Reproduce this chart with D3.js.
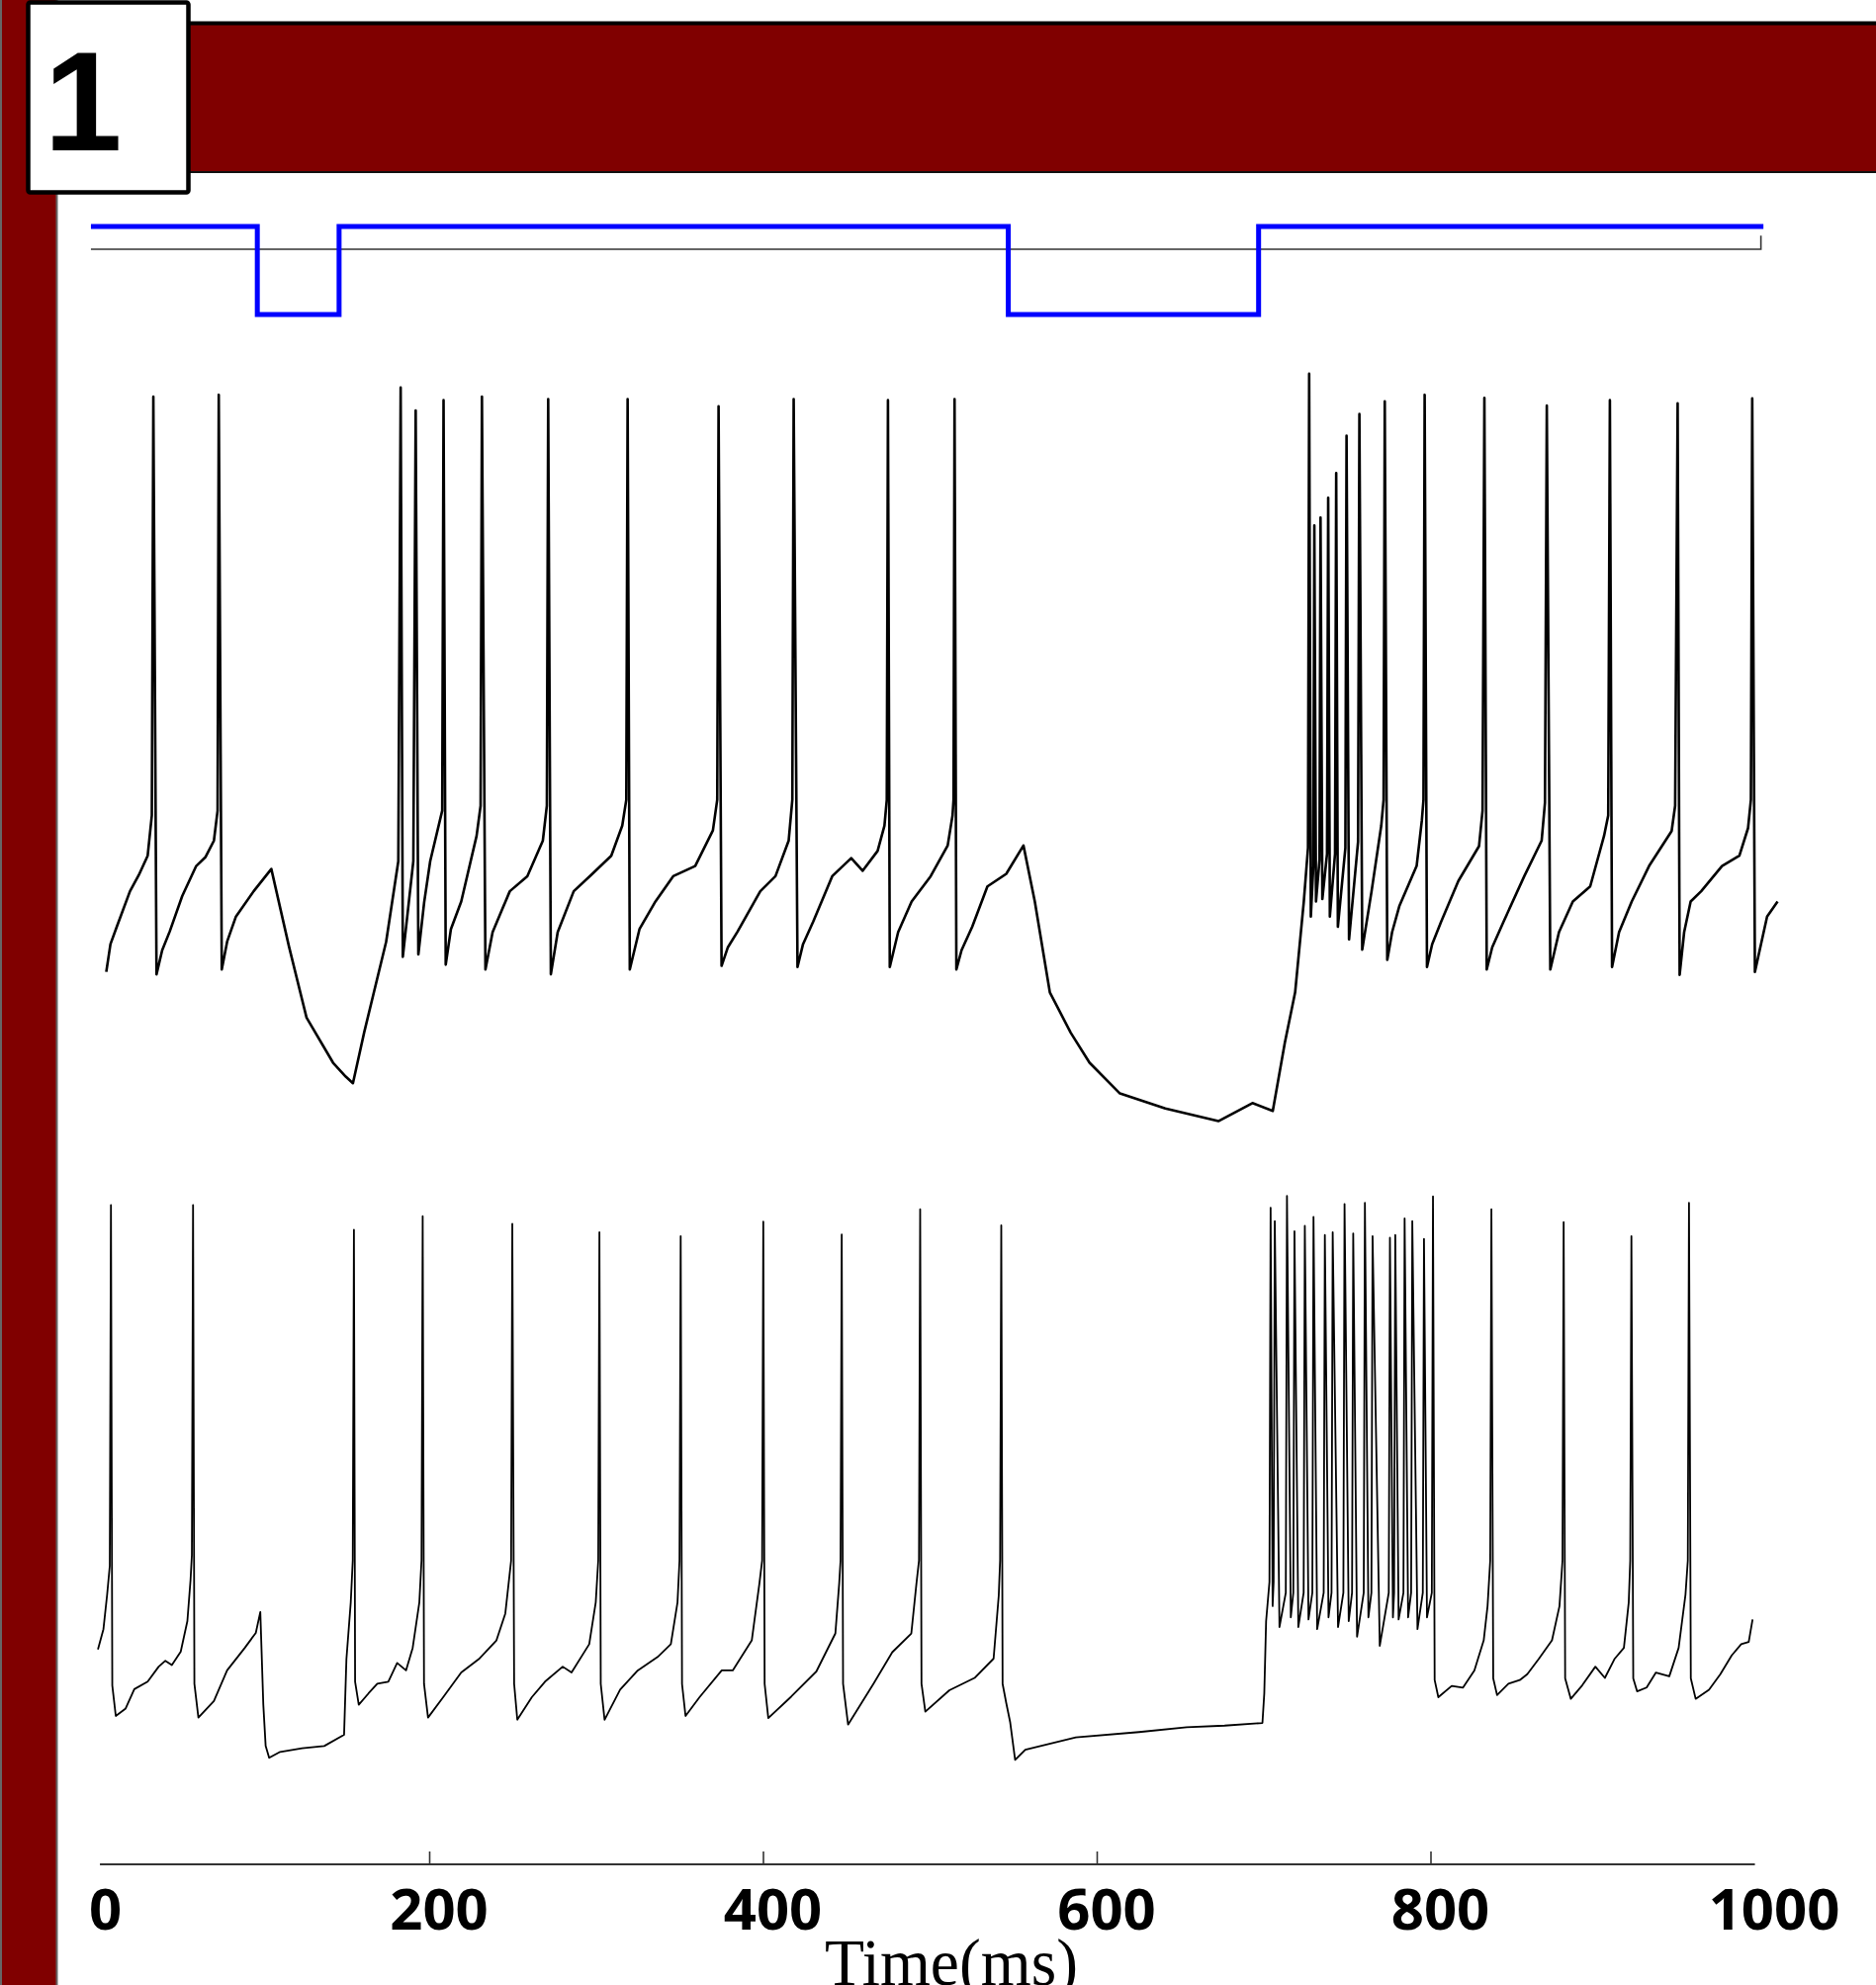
<!DOCTYPE html>
<html>
<head>
<meta charset="utf-8">
<script src="https://cdn.jsdelivr.net/npm/d3@7"></script>
<style>
body { margin: 0; background: #fff; }
.container { width: 1897px; height: 2007px; }
</style>
</head>
<body>
<div class="container"></div>
<script>
const wd = 1897
const ht = 2007

// stimulus (blue), step values, arbitrary units
const stimSteps = [[-2.7, 0.35], [97, -1], [146, 0.35], [547, -1], [697, 0.35], [999.5, 0.35]]
const stimBase = [[-2.7, 0], [998, 0], [998, 0.21]]

// top trace: spike times / peaks (ms, mV)
const topSpikes = [[34.7, 30], [73.9, 30.3], [182.9, 31.5], [191.9, 27.7], [208.6, 29.4], [231.6, 30],
  [271.3, 29.6], [318.9, 29.6], [373.4, 28.4], [418.4, 29.6], [474.9, 29.4], [514.8, 29.6],
  [727.3, 33.8], [730.4, 8.6], [734.1, 9.9], [738.7, 13.2], [743.5, 17.3], [749.7, 23.5], [757.4, 27.1],
  [772.6, 29.2], [796.5, 30.3], [832.3, 29.8], [869.7, 28.5], [907.5, 29.4], [948.1, 28.9], [992.8, 29.7]]

// top trace: membrane between spikes (ms, mV)
const topSub = [[6.5, -65.6], [9, -61], [12.8, -58.1], [20.7, -52.2], [26, -49.5], [31.3, -46.3], [33.8, -39.6], [36.6, -66],
  [40, -62], [44.5, -58.9], [52, -53], [60.4, -48], [66, -46.5], [71, -43.8], [73.2, -38.8], [75.7, -65.2],
  [79, -60.5], [84.2, -56.4], [94.8, -52.2], [105.4, -48.5], [116, -61.4], [126.5, -73.2], [142.4, -80.7], [150, -83], [154.3, -84.1],
  [161, -75.7], [174.2, -60.6], [181.5, -47.2], [184.2, -63.1],
  [190.5, -47.2], [193.5, -62.7],
  [197, -54], [200.6, -47.2], [207.8, -38.8], [209.9, -64.4],
  [213, -58.5], [219.2, -53.9], [228.4, -43], [230.8, -38], [233.7, -65.2],
  [238, -59], [248.3, -52.2], [258.8, -49.7], [268.1, -43.8], [270.5, -38], [272.9, -66],
  [277, -59], [286.6, -52.2], [297, -49.5], [309.1, -46.3], [315.7, -41.3], [318.1, -37], [320.2, -65.2],
  [326, -58.5], [335.6, -53.9], [346.2, -49.7], [359.4, -48], [370, -42.1], [372.6, -37], [375.2, -64.6],
  [379, -61.5], [384.8, -58.9], [398.4, -52.2], [407.5, -49.7], [415.4, -43.8], [417.6, -37], [420.7, -64.8],
  [424, -61], [430.2, -57.2], [441.5, -49.7], [452.9, -46.7], [459.7, -48.8], [468.7, -45.5], [472.8, -41.3], [474.2, -37], [476, -64.8],
  [481, -59], [489.1, -53.9], [500.5, -49.7], [510.7, -44.6], [513.6, -39.6], [514.2, -37], [515.9, -65.2],
  [519, -62], [525.4, -58.1], [534.5, -51.4], [545.8, -49.3], [556.1, -44.6], [562.9, -53.9], [571.9, -69], [584.4, -75.7],
  [595.7, -80.7], [613.9, -85.8], [641.1, -88.3], [672.9, -90.4], [693.3, -87.4], [705.5, -88.7],
  [712.7, -77.4], [718.9, -69], [724.1, -53.9], [726.6, -45],
  [728.3, -56.4], [729.8, -48], [731.4, -53.9], [733.5, -47], [735.2, -53.5], [738, -46], [739.7, -56.4], [742.8, -46],
  [744.5, -58.1], [749, -45], [751.2, -60.2], [756.6, -44], [759.1, -61.9],
  [764.7, -52.2], [770.5, -41.3], [771.9, -37], [774.1, -63.6],
  [777, -59], [781.3, -54.7], [791.7, -48], [794.8, -40.5], [795.8, -37], [797.9, -64.8],
  [801, -61], [806.3, -57.3], [816.7, -50.5], [829.1, -44.7], [831.2, -38.8], [833.7, -65.2],
  [837, -61.5], [843.7, -57.3], [856.2, -49.7], [866.6, -43.8], [868.6, -37.5], [871.8, -65.2],
  [877, -59], [885.3, -53.9], [895.7, -51.4], [904, -43], [906.5, -39.6], [908.8, -64.8],
  [913, -59], [920.6, -53.9], [931, -48], [944.5, -42.2], [946.6, -38], [949.3, -66.1],
  [952, -59], [955.9, -53.9], [962.2, -52.2], [974.7, -48], [985.1, -46.3], [990.3, -41.7], [992, -37], [994.4, -65.6],
  [1001.7, -56.4], [1008, -53.9]]

// bottom trace: spike times / peaks
const botSpikes = [[9.3, 30.3], [58.5, 30.3], [154.9, 25.7], [196.1, 28.2], [249.8, 26.8], [302, 25.2],
  [350.7, 24.5], [400.2, 27.2], [447.2, 24.8], [494.2, 29.5], [542.8, 26.5],
  [704.2, 29.8], [706.7, 27.3], [714, 32], [718.5, 25.4], [724.7, 26.4], [729.9, 28.1], [736.7, 24.7],
  [741.4, 25.2], [748.5, 30.5], [753.7, 25], [760.7, 30.7], [765.3, 24.5], [775.7, 24.2], [778.9, 24.7],
  [784.5, 27.8], [789.1, 27.3], [796.1, 24], [801.5, 31.9],
  [836.5, 29.5], [879.8, 27.1], [920.4, 24.5], [954.9, 30.7]]

// bottom trace: membrane between spikes
const botSub = [[1.5, -52.6], [4.8, -48.8], [7, -42.4], [8.6, -37], [10.1, -59.3], [12.2, -65],
  [18.1, -63.6], [23.3, -60], [31.3, -58.6], [37.9, -55.8], [41.9, -54.7], [45.8, -55.5], [51.1, -53],
  [55.1, -47.3], [57, -39.6], [57.8, -35], [59.3, -59], [61.7, -65.3],
  [71, -62.2], [78.9, -56.5], [89.5, -52.3], [96.1, -49.5], [98.8, -45.6], [100.6, -62.9], [102, -70.6],
  [104.1, -72.8], [110.7, -71.7], [123.9, -71], [137.1, -70.6], [149, -68.5], [150.4, -54.4], [153, -43.8],
  [154.2, -36], [155.6, -58.6], [157.8, -62.9],
  [163.6, -60.8], [168.9, -59], [175.5, -58.6], [180.8, -55.1], [186.1, -56.5], [190.1, -52.3], [194.1, -43.8],
  [195.4, -36], [196.9, -59], [199.3, -65.3],
  [208.6, -61.4], [219.2, -56.9], [229.7, -54.4], [240.3, -50.9], [245.6, -45.9], [249.1, -36], [250.9, -59], [252.8, -65.7],
  [261.5, -61.5], [269.4, -58.6], [280, -55.8], [285.3, -56.9], [295.9, -51.6], [299.8, -43.8], [301.3, -36],
  [302.8, -59], [305.1, -65.7],
  [314.4, -60.1], [325, -56.5], [336.9, -54], [344.8, -51.6], [348.8, -43.8], [350, -36], [351.5, -59], [353.6, -65],
  [362, -61.5], [375.3, -56.5], [381.9, -56.5], [393.3, -50.9], [397.9, -40.2], [399.5, -36], [401, -59], [403.2, -65.4],
  [416.9, -61.4], [432, -56.7], [443.4, -49.6], [445.7, -40.2], [446.5, -36], [448, -59], [451, -66.6],
  [466.2, -59], [477.5, -53.1], [488.9, -49.6], [492, -40.2], [493.5, -36], [495, -59], [497.3, -64.2],
  [511.7, -60.2], [526.8, -57.9], [538.2, -54.3], [541.3, -42.5], [542.1, -36], [543.6, -59], [545.8, -62.6],
  [548.1, -66.1], [551.1, -73.2], [557.2, -71.3], [587.5, -69], [625.4, -68], [653.9, -67.1], [676.6, -66.8],
  [699.3, -66.3], [700.4, -60.8], [701.5, -47.3], [703.5, -40],
  [705.4, -44.5], [706, -40], [709.5, -48.4], [713.3, -42], [716.3, -46.6], [717.8, -42], [720.8, -48.4], [724, -42],
  [726.9, -47], [729.2, -42], [732.1, -48.8], [736, -42], [738.9, -46.6], [740.7, -42], [744.6, -48.4], [747.8, -42],
  [751, -47.3], [753, -42], [756, -50.2], [760, -42], [762.8, -46.6], [764.6, -42], [769.6, -51.9], [775, -42],
  [777.5, -46.6], [778.2, -42], [780.9, -47], [783.8, -42], [786.6, -46.6], [788.4, -42], [792.2, -48.8], [795.4, -42],
  [797.9, -46.6], [800.8, -42], [802.5, -58.3], [804.7, -61.5],
  [812.7, -59.4], [819.5, -59.7], [826.3, -56.5], [831.9, -50.9], [834.2, -44.5], [835.8, -36], [837.6, -58], [839.9, -61.1],
  [846.7, -59], [853.5, -58.3], [858, -57.2], [864.8, -54.4], [872.8, -50.9], [877.3, -44.5], [879.1, -36],
  [880.7, -58], [884.1, -61.8],
  [890.9, -59.3], [898.8, -55.8], [904.5, -57.9], [910.2, -54.4], [915.9, -52.3], [918.8, -43.8], [919.7, -36],
  [921.5, -58], [923.8, -60.4],
  [929.5, -59.7], [935.1, -56.9], [943.1, -57.6], [948.7, -52.3], [952.8, -42.4], [954.2, -36], [956, -58], [958.9, -61.8],
  [966.9, -60.1], [973.7, -57.2], [980.5, -53.7], [986.2, -51.6], [990.7, -51.2], [993, -47]]

const tickVals = [200, 400, 600, 800]
const tickLabels = [0, 200, 400, 600, 800, 1000]
const axisSpan = [2.7, 994.4]

const svgC = d3.select(".container")
.append("svg")
.attr("width", wd)
.attr("height", ht)
.style("font-family", "'Liberation Sans', Arial, sans-serif")

const x = d3.scaleLinear().domain([0, 1000]).range([96.5, 1784])
const yStim = d3.scaleLinear().domain([-1, 0]).range([318, 252])
const yTop = d3.scaleLinear().domain([-65, 30]).range([979, 401])
const yBot = d3.scaleLinear().domain([-65, 30]).range([1735, 1220])

// frame: left bar, header, panel number
svgC.append("rect")
.attr("x", 1).attr("y", -5).attr("width", 56.5).attr("height", ht + 10)
.attr("fill", "#800000").attr("stroke", "#666").attr("stroke-width", 2)

svgC.append("rect")
.attr("x", 190).attr("y", 24).attr("width", wd).attr("height", 150)
.attr("fill", "#800000")
svgC.append("line").attr("x1", 190).attr("x2", wd).attr("y1", 23.5).attr("y2", 23.5)
.attr("stroke", "#000").attr("stroke-width", 4)
svgC.append("line").attr("x1", 190).attr("x2", wd).attr("y1", 174).attr("y2", 174)
.attr("stroke", "#111").attr("stroke-width", 2)

svgC.append("rect")
.attr("x", 28.5).attr("y", 2.5).attr("width", 162).attr("height", 192).attr("rx", 2)
.attr("fill", "#fff").attr("stroke", "#000").attr("stroke-width", 4.5)

svgC.append("text")
.attr("x", 84).attr("y", 152)
.attr("text-anchor", "middle")
.style("font-size", "142px").style("font-weight", "bold")
.text("1")

// stimulus
const stimLine = d3.line()
.x((d)=> x(d[0]))
.y((d)=> yStim(d[1]))

svgC.append("path")
.attr("d", stimLine(stimBase))
.attr("fill", "none")
.attr("stroke", "#333")
.attr("stroke-width", 1.6)

svgC.append("path")
.attr("d", stimLine.curve(d3.curveStepAfter)(stimSteps))
.attr("fill", "none")
.attr("stroke", "#0000ff")
.attr("stroke-width", 5)

// voltage traces
function merge(sub, spikes) {
  return sub.concat(spikes).sort((a, b)=> a[0] - b[0])
}

const topLine = d3.line().x((d)=> x(d[0])).y((d)=> yTop(d[1]))
const botLine = d3.line().x((d)=> x(d[0])).y((d)=> yBot(d[1]))

svgC.append("path")
.attr("d", topLine(merge(topSub, topSpikes)))
.attr("fill", "none")
.attr("stroke", "#000")
.attr("stroke-width", 2.6)
.attr("stroke-linejoin", "round")

svgC.append("path")
.attr("d", botLine(merge(botSub, botSpikes)))
.attr("fill", "none")
.attr("stroke", "#000")
.attr("stroke-width", 1.8)
.attr("stroke-linejoin", "round")

// time axis
const axisG = svgC.append("g")
.attr("transform", "translate(0,1885)")
.call(d3.axisBottom(x).tickValues(tickVals).tickSize(-13).tickFormat(""))

axisG.select(".domain").remove()
axisG.selectAll(".tick line").attr("stroke", "#333").attr("stroke-width", 1.6)

axisG.append("line")
.attr("x1", x(axisSpan[0])).attr("x2", x(axisSpan[1]))
.attr("stroke", "#333").attr("stroke-width", 2.2)

svgC.append("g")
.selectAll("text")
.data(tickLabels)
.join("text")
.attr("x", (d)=> x(d) + 10)
.attr("y", 1951)
.attr("text-anchor", "middle")
.style("font-family", "'Open Sans', sans-serif")
.style("font-weight", "bold")
.style("font-size", "58px")
.text((d)=> d)

svgC.append("text")
.attr("x", 962).attr("y", 2007)
.attr("text-anchor", "middle")
.attr("textLength", 256)
.attr("lengthAdjust", "spacingAndGlyphs")
.style("font-family", "'Liberation Serif', 'Times New Roman', serif")
.style("font-size", "68px")
.text("Time(ms)")
</script>
</body>
</html>
